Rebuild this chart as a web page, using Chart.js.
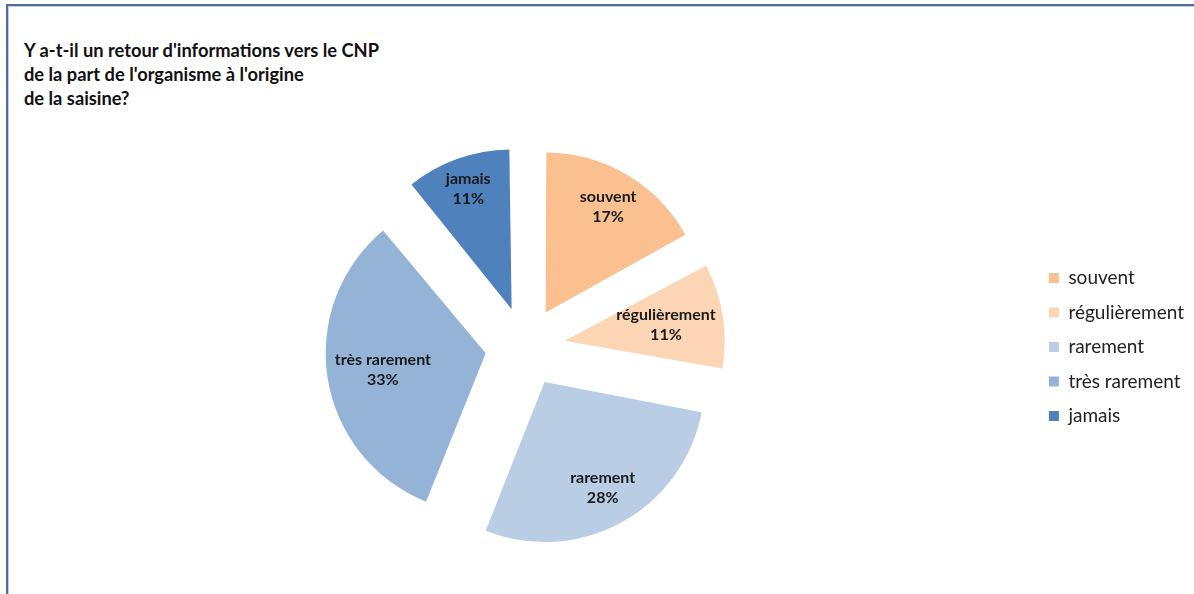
<!DOCTYPE html>
<html lang="fr">
<head>
<meta charset="utf-8">
<title>Retour d'informations vers le CNP</title>
<script src="https://cdn.jsdelivr.net/npm/chart.js@4.4.1/dist/chart.umd.min.js"></script>
<style>
  html, body { margin: 0; padding: 0; background: #fff; }
  #wrap { position: relative; width: 1194px; height: 594px; overflow: hidden; }
  /* cadre du graphique, coupé à droite et en bas */
  #frame {
    position: absolute; left: 6px; top: 4px; width: 1400px; height: 800px;
    border-top: 2px solid #4f6e9f; border-left: 2px solid #4f6e9f;
    box-shadow: inset 1px 1px 0 #c9ccd3;
  }
  #titre {
    position: absolute; left: 24px; top: 38px; margin: 0;
    font: bold 18.3px Lato, sans-serif; line-height: 24px; color: #111;
  }
  canvas { position: absolute; left: 0; top: 0; }
</style>
</head>
<body>
<div id="wrap">
  <div id="frame"></div>
  <p id="titre">Y a-t-il un retour d'informations vers le CNP<br>de la part de l'organisme à l'origine<br>de la saisine?</p>
  <canvas id="pieChart" width="1194" height="594"></canvas>
</div>
<script>
// Données
const categories = ['souvent', 'régulièrement', 'rarement', 'très rarement', 'jamais'];
const pourcentages = [17, 11, 28, 33, 11];
const couleurs = ['#FAC090', '#FCD5B5', '#B9CDE5', '#95B3D7', '#4F81BD'];

const RAYON = 160;      // rayon des parts
const ECLATEMENT = 160; // Chart.js déplace chaque part de offset / 4

// Chart.js agrandit les parts éclatées selon leur angle ; on remet
// toutes les parts au même rayon
const rayonEgal = {
  id: 'rayonEgal',
  afterDatasetUpdate(chart, args) {
    const meta = chart.getDatasetMeta(args.index);
    meta.data.forEach(arc => {
      const d = (arc.options.offset || 0) / 4;
      const fix = 1 - Math.sin(Math.min(Math.PI, arc.circumference || 0));
      arc.outerRadius = RAYON - d * fix;
    });
  }
};

// Étiquettes "catégorie + %" : placées sur la bissectrice de la part,
// le plus loin possible tant que le bloc de texte reste dans la part
const etiquettesParts = {
  id: 'etiquettesParts',
  afterDatasetsDraw(chart) {
    const ctx = chart.ctx;
    const meta = chart.getDatasetMeta(0);
    ctx.save();
    ctx.font = 'bold 16px Lato, sans-serif';
    ctx.fillStyle = '#1a1a1a';
    ctx.textAlign = 'center';
    ctx.textBaseline = 'middle';
    meta.data.forEach((arc, i) => {
      const l1 = categories[i], l2 = pourcentages[i] + '%';
      const a = (arc.startAngle + arc.endAngle) / 2;
      const ux = Math.cos(a), uy = Math.sin(a);
      const dec = arc.options.offset / 4;
      const sx = arc.x + ux * dec, sy = arc.y + uy * dec; // sommet de la part
      const hw = Math.max(ctx.measureText(l1).width, ctx.measureText(l2).width) / 2;
      const hh = 20;
      const cx = Math.sign(ux) * hw, cy = Math.sign(uy) * hh;
      const uc = ux * cx + uy * cy;
      const lim = RAYON * 0.97;
      const d = -uc + Math.sqrt(uc * uc - (cx * cx + cy * cy) + lim * lim);
      const x = sx + ux * d, y = sy + uy * d;
      ctx.fillText(l1, x, y - 10);
      ctx.fillText(l2, x, y + 10);
    });
    ctx.restore();
  }
};

new Chart(document.getElementById('pieChart'), {
  type: 'pie',
  data: {
    labels: categories,
    datasets: [{
      data: pourcentages,
      backgroundColor: couleurs,
      borderWidth: 0,
      offset: ECLATEMENT,
      radius: RAYON
    }]
  },
  options: {
    responsive: false,
    animation: false,
    events: [],
    layout: { padding: { left: 17, right: 0, top: 103, bottom: 3 } },
    plugins: {
      tooltip: { enabled: false },
      legend: {
        position: 'right',
        labels: {
          boxWidth: 10,
          boxHeight: 10,
          padding: 15.5,
          color: '#222',
          font: { family: 'Lato, sans-serif', size: 19 }
        }
      }
    }
  },
  plugins: [rayonEgal, etiquettesParts]
});
</script>
</body>
</html>
